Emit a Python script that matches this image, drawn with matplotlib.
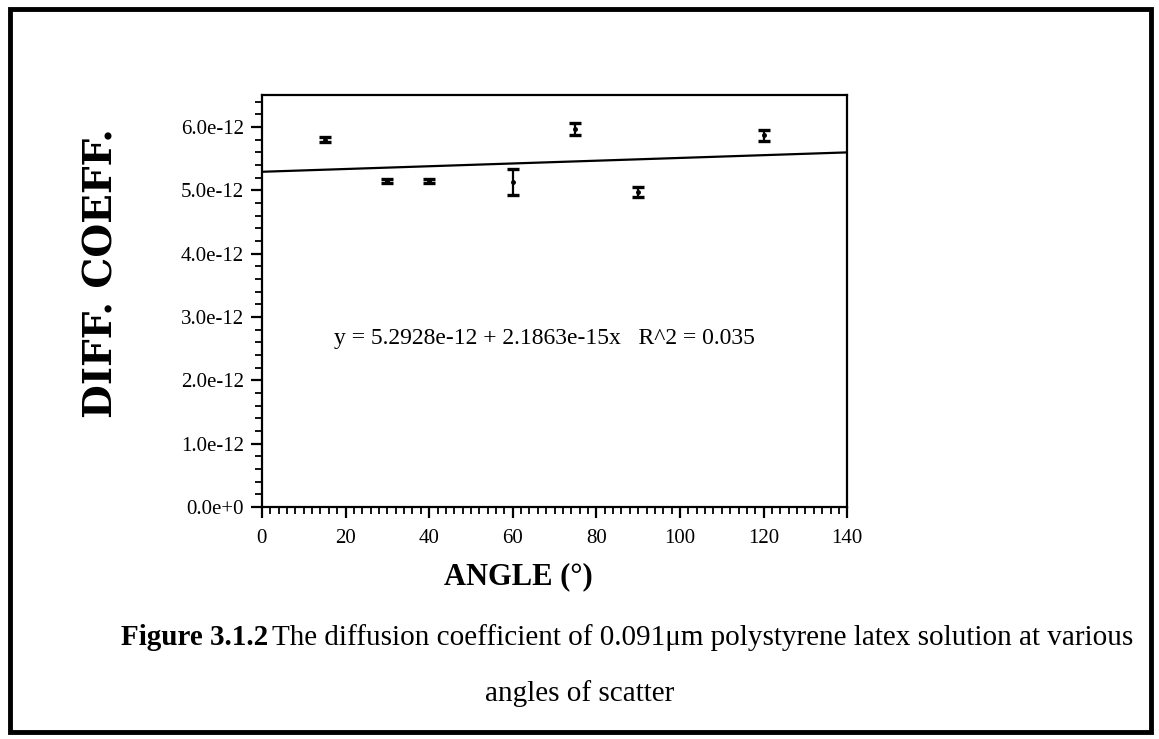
import matplotlib.pyplot as plt
from matplotlib.patches import Rectangle
from matplotlib.ticker import MultipleLocator, FuncFormatter
import numpy as np

# scattering angle (deg), diffusion coefficient and its error (m^2/s)
angle = [15, 30, 40, 60, 75, 90, 120]
diff_coeff = [5.80e-12, 5.15e-12, 5.15e-12, 5.13e-12, 5.97e-12, 4.98e-12, 5.87e-12]
diff_err = [0.04e-12, 0.03e-12, 0.03e-12, 0.20e-12, 0.10e-12, 0.08e-12, 0.09e-12]

# linear fit as printed on the chart
fit_a = 5.2928e-12
fit_b = 2.1863e-15
fit_r2 = 0.035

plt.rcParams['font.family'] = ['Liberation Serif', 'DejaVu Serif']

fig = plt.figure(figsize=(11.59, 7.39), dpi=100)
ax = fig.add_axes([0.226, 0.314, 0.505, 0.557])

ax.errorbar(angle, diff_coeff, yerr=diff_err, fmt='o', color='black',
            markersize=2.5, capsize=4.5, capthick=2.4, elinewidth=1.6)

fx = np.array([0, 140])
ax.plot(fx, fit_a + fit_b * fx, color='black', linewidth=1.6)

ax.set_xlim(0, 140)
ax.set_ylim(0, 6.5e-12)
ax.xaxis.set_major_locator(MultipleLocator(20))
ax.xaxis.set_minor_locator(MultipleLocator(2))
ax.yaxis.set_major_locator(MultipleLocator(1e-12))
ax.yaxis.set_minor_locator(MultipleLocator(0.2e-12))


def sci(v, pos):
    if abs(v) < 1e-20:
        return '0.0e+0'
    return '%.1fe%d' % (v / 1e-12, -12)


ax.yaxis.set_major_formatter(FuncFormatter(sci))
ax.tick_params(which='major', direction='out', length=8, width=1.6, labelsize=15, pad=5)
ax.tick_params(axis='x', which='major', pad=8)
ax.tick_params(which='minor', direction='out', length=5, width=1.3)
for s in ax.spines.values():
    s.set_linewidth(1.6)

ax.text(0.482, 0.41, 'y = 5.2928e-12 + 2.1863e-15x   R^2 = %.3f' % fit_r2,
        transform=ax.transAxes, ha='center', va='center', fontsize=17)

fig.text(0.088, 0.63, 'DIFF. COEFF.', rotation=90, ha='center', va='center',
         fontsize=28, fontweight='bold', family='DejaVu Serif')
fig.text(0.447, 0.219, 'ANGLE (°)', ha='center', va='center',
         fontsize=22, fontweight='bold')
cap1 = fig.text(0.104, 0.138, 'Figure 3.1.2', ha='left', va='center',
                fontsize=21, fontweight='bold')
fig.canvas.draw()
bb = cap1.get_window_extent().transformed(fig.transFigure.inverted())
fig.text(bb.x1 + 0.004, 0.138,
         'The diffusion coefficient of 0.091\u03bcm polystyrene latex solution at various',
         ha='left', va='center', fontsize=21)
fig.text(0.5, 0.061, 'angles of scatter', ha='center', va='center', fontsize=21)

fig.patches.append(Rectangle((0.009, 0.009), 0.984, 0.979, transform=fig.transFigure,
                             fill=False, edgecolor='black', linewidth=3.5))

fig.savefig('out.png', dpi=100)
